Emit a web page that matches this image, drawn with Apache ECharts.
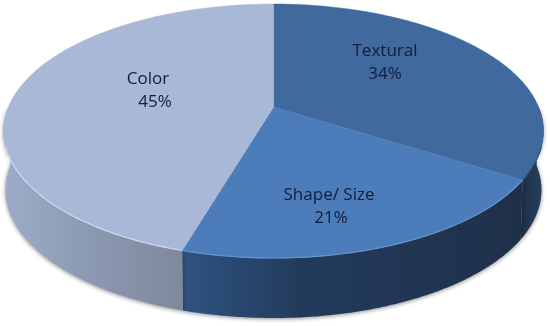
<!DOCTYPE html>
<html><head><meta charset="utf-8">
<style>html,body{margin:0;padding:0;background:#fff}#c{width:550px;height:326px}</style>
<script src="https://cdn.jsdelivr.net/npm/echarts@6/dist/echarts.min.js"></script>
</head><body><div id="c"></div>
<script>
const categories = ['Textural', 'Shape/ Size', 'Color'];
const values = [34.0, 20.55, 45.45];
const topColors = ['#406a9d', '#4c7cb9', '#a9b8d6'];
const sideStops = [
  [[0, '#1f3046'], [1, '#25405f']],
  [[0, '#2f5380'], [0.35, '#223b5c'], [1, '#1f3049']],
  [[0, '#9dacc8'], [0.5, '#8b98b1'], [1, '#7f899c']]
];
const rimColors = ['#2f5380', '#6593cf', '#cdd9f0'];
const labelPos = [[385, 51, 385, 74], [329, 195, 331, 218], [148, 79, 155, 102]];

const topE = {cx: 273.5, cy: 131, rx: 270, ry: 127};
const botE = {cx: 273.5, cy: 190, rx: 268, ry: 128};
const tilt = -0.189;
const total = values.reduce((a, b) => a + b, 0);

function project(e, u, v) {
  const d = 1 + tilt * v;
  return [e.cx + e.rx * u * Math.sqrt(1 - tilt * tilt) / d, e.cy + e.ry * (v + tilt) / d];
}
function rim(e, a0, a1) {
  const pts = [], n = Math.max(2, Math.ceil((a1 - a0) / 0.01));
  for (let i = 0; i <= n; i++) {
    const a = a0 + (a1 - a0) * i / n;
    pts.push(project(e, Math.sin(a), -Math.cos(a)));
  }
  return pts;
}
function fractionBefore(i) {
  let s = 0;
  for (let k = 0; k < i; k++) s += values[k];
  return s / total;
}
function renderItem(params, api) {
  const i = params.dataIndex;
  const a0 = fractionBefore(i) * 2 * Math.PI;
  const a1 = a0 + api.value(0) / total * 2 * Math.PI;
  const top = rim(topE, a0, a1);
  const frontStart = Math.max(a0, Math.PI / 2);
  const frontEnd = Math.min(a1, Math.PI * 1.5);
  const front = rim(topE, frontStart, frontEnd);
  const frontBot = rim(botE, frontStart, frontEnd);
  const edge = rim(topE, Math.max(a0, Math.PI * 0.6), Math.min(a1, Math.PI * 1.4));
  const stops = sideStops[i].map(s => ({offset: s[0], color: s[1]}));
  const font = '17px "Open Sans"';
  const lp = labelPos[i];
  return {type: 'group', children: [
    {type: 'polygon', z2: 1,
      shape: {points: front.concat(frontBot.slice().reverse())},
      style: {
        fill: new echarts.graphic.LinearGradient(0, 0, 1, 0, stops),
        shadowBlur: 4, shadowColor: 'rgba(0,0,0,0.45)', shadowOffsetY: 1
      }},
    {type: 'polygon', z2: 10,
      shape: {points: [project(topE, 0, 0)].concat(top)},
      style: {fill: topColors[i], stroke: topColors[i], lineWidth: 0.5}},
    {type: 'polyline', z2: 11,
      shape: {points: edge},
      style: {fill: null, stroke: rimColors[i], lineWidth: 1.2}},
    {type: 'text', z2: 20, x: lp[0], y: lp[1],
      style: {text: categories[i], font, fill: '#141d3a', align: 'center', verticalAlign: 'middle'}},
    {type: 'text', z2: 20, x: lp[2], y: lp[3],
      style: {text: Math.round(api.value(0)) + '%', font, fill: '#141d3a', align: 'center', verticalAlign: 'middle'}}
  ]};
}
const chart = echarts.init(document.getElementById('c'), null, {renderer: 'canvas'});
chart.setOption({
  animation: false,
  backgroundColor: '#fff',
  series: [{
    type: 'custom',
    coordinateSystem: 'none',
    renderItem,
    data: values.map((v, i) => ({name: categories[i], value: [v]}))
  }]
});
</script></body></html>
